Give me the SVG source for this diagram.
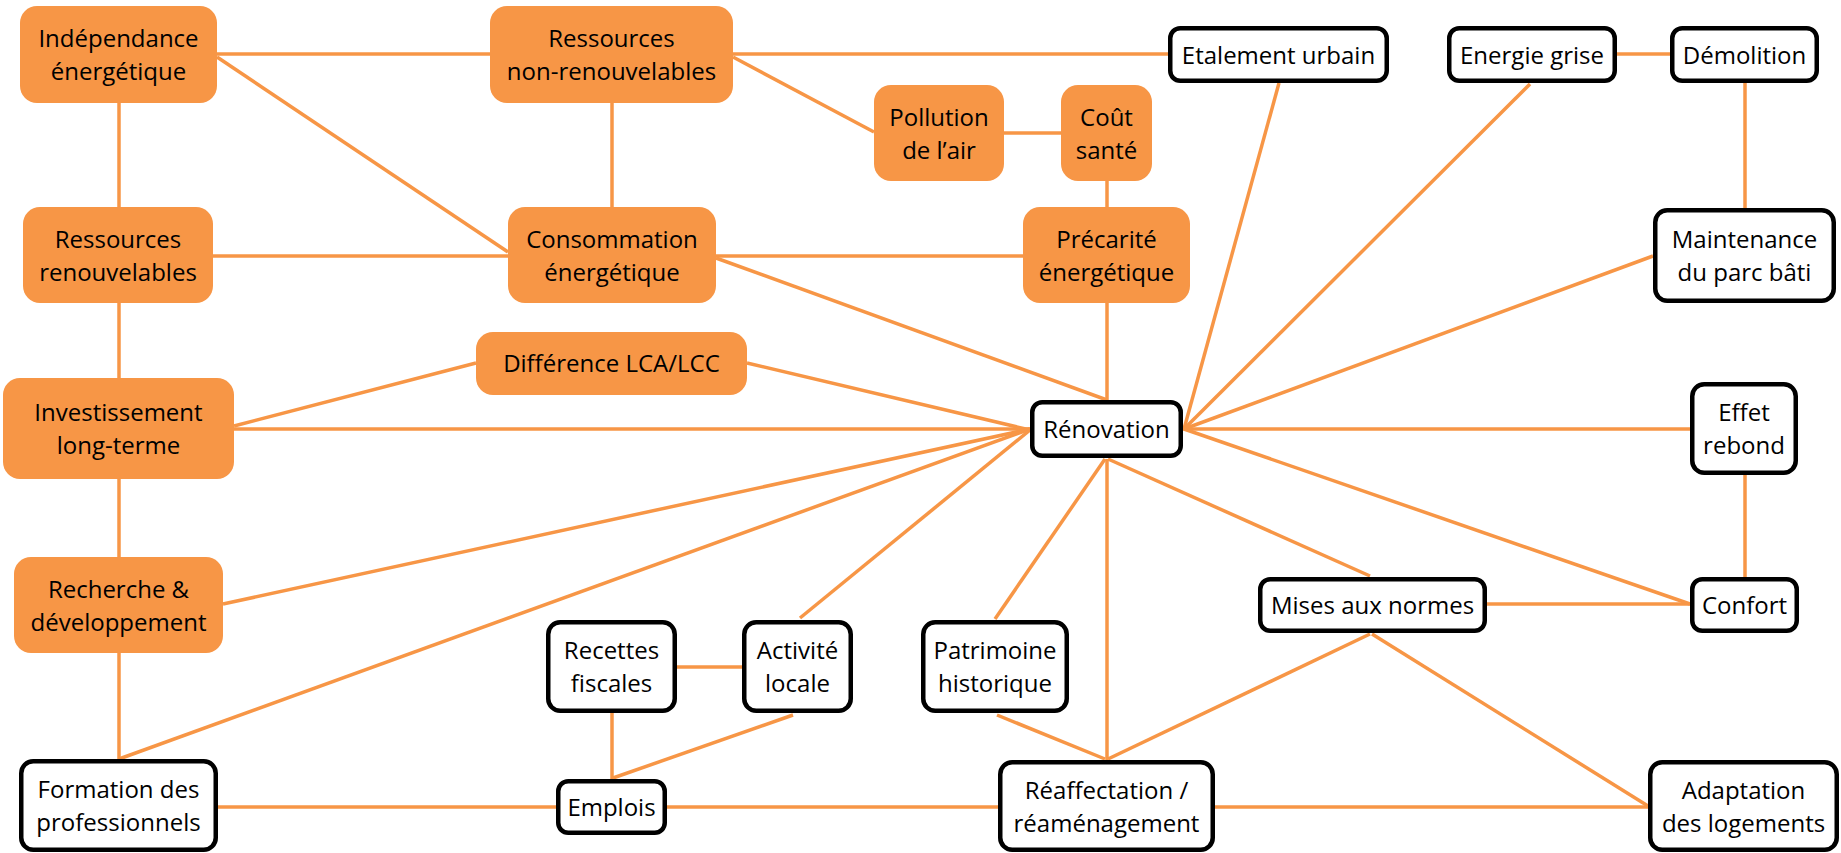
<svg xmlns="http://www.w3.org/2000/svg" width="1841" height="853" viewBox="0 0 1841 853">
<style>
.c line{stroke:#F79646;stroke-width:3.5;stroke-linecap:butt}
.o{fill:#F79646}
.w{fill:#FFFFFF;stroke:#000000;stroke-width:4.5}
text{font-family:"Open Sans","Liberation Sans",sans-serif;font-size:24px;fill:#000000;text-anchor:middle}
</style>
<rect width="1841" height="853" fill="#FFFFFF"/>
<g id="connectors" class="c">
<line x1="217" y1="54" x2="490" y2="54"/>
<line x1="119" y1="103" x2="119" y2="207"/>
<line x1="217" y1="57" x2="508" y2="252"/>
<line x1="612" y1="103" x2="612" y2="207"/>
<line x1="733" y1="54" x2="1168" y2="54"/>
<line x1="733" y1="57" x2="874" y2="132"/>
<line x1="1004" y1="133" x2="1061" y2="133"/>
<line x1="1107" y1="181" x2="1107" y2="207"/>
<line x1="213" y1="256" x2="508" y2="256"/>
<line x1="119" y1="303" x2="119" y2="378"/>
<line x1="716" y1="256" x2="1023" y2="256"/>
<line x1="716" y1="258" x2="1107" y2="400"/>
<line x1="1107" y1="303" x2="1107" y2="400"/>
<line x1="234" y1="426" x2="476" y2="363"/>
<line x1="747" y1="363" x2="1030" y2="430"/>
<line x1="234" y1="429" x2="1030" y2="429"/>
<line x1="119" y1="479" x2="119" y2="557"/>
<line x1="223" y1="604" x2="1030" y2="429"/>
<line x1="119" y1="653" x2="119" y2="759"/>
<line x1="119" y1="759" x2="1030" y2="429"/>
<line x1="218" y1="807" x2="556" y2="807"/>
<line x1="677" y1="667" x2="742" y2="667"/>
<line x1="612" y1="713" x2="612" y2="779"/>
<line x1="793" y1="715" x2="613" y2="778"/>
<line x1="800" y1="618" x2="1030" y2="430"/>
<line x1="667" y1="807" x2="998" y2="807"/>
<line x1="995" y1="619" x2="1105" y2="459"/>
<line x1="997" y1="715" x2="1105" y2="759"/>
<line x1="1107" y1="459" x2="1107" y2="760"/>
<line x1="1108" y1="459" x2="1370" y2="576"/>
<line x1="1370" y1="634" x2="1108" y2="759"/>
<line x1="1487" y1="604" x2="1690" y2="604"/>
<line x1="1372" y1="634" x2="1648" y2="806"/>
<line x1="1215" y1="807" x2="1648" y2="807"/>
<line x1="1184" y1="429" x2="1279" y2="83"/>
<line x1="1184" y1="429" x2="1530" y2="84"/>
<line x1="1184" y1="429" x2="1653" y2="256"/>
<line x1="1183" y1="429" x2="1690" y2="429"/>
<line x1="1184" y1="429" x2="1690" y2="604"/>
<line x1="1617" y1="54" x2="1670" y2="54"/>
<line x1="1745" y1="83" x2="1745" y2="208"/>
<line x1="1745" y1="475" x2="1745" y2="577"/>
</g>
<g id="independance"><rect class="o" x="20" y="6" width="197" height="97" rx="17"/><text x="118.5" y="47">Indépendance</text><text x="118.5" y="80">énergétique</text></g>
<g id="ressources-non-renouvelables"><rect class="o" x="490" y="6" width="243" height="97" rx="17"/><text x="611.5" y="47">Ressources</text><text x="611.5" y="80">non-renouvelables</text></g>
<g id="pollution"><rect class="o" x="874" y="85" width="130" height="96" rx="17"/><text x="939" y="125.5">Pollution</text><text x="939" y="158.5">de l’air</text></g>
<g id="cout-sante"><rect class="o" x="1061" y="85" width="91" height="96" rx="17"/><text x="1106.5" y="125.5">Coût</text><text x="1106.5" y="158.5">santé</text></g>
<g id="ressources-renouvelables"><rect class="o" x="23" y="207" width="190" height="96" rx="17"/><text x="118" y="247.5">Ressources</text><text x="118" y="280.5">renouvelables</text></g>
<g id="consommation"><rect class="o" x="508" y="207" width="208" height="96" rx="17"/><text x="612" y="247.5">Consommation</text><text x="612" y="280.5">énergétique</text></g>
<g id="precarite"><rect class="o" x="1023" y="207" width="167" height="96" rx="17"/><text x="1106.5" y="247.5">Précarité</text><text x="1106.5" y="280.5">énergétique</text></g>
<g id="difference"><rect class="o" x="476" y="332" width="271" height="63" rx="17"/><text x="611.5" y="372">Différence LCA/LCC</text></g>
<g id="investissement"><rect class="o" x="3" y="378" width="231" height="101" rx="17"/><text x="118.5" y="421">Investissement</text><text x="118.5" y="454">long-terme</text></g>
<g id="recherche"><rect class="o" x="14" y="557" width="209" height="96" rx="17"/><text x="118.5" y="597.5">Recherche &amp;</text><text x="118.5" y="630.5">développement</text></g>
<g id="etalement"><rect class="w" x="1170.25" y="28.25" width="216.5" height="52.5" rx="10"/><text x="1278.5" y="63.5">Etalement urbain</text></g>
<g id="energie-grise"><rect class="w" x="1449.25" y="28.25" width="165.5" height="52.5" rx="10"/><text x="1532" y="63.5">Energie grise</text></g>
<g id="demolition"><rect class="w" x="1672.25" y="28.25" width="144.5" height="52.5" rx="10"/><text x="1744.5" y="63.5">Démolition</text></g>
<g id="maintenance"><rect class="w" x="1655.25" y="210.25" width="178.5" height="90.5" rx="12"/><text x="1744.5" y="248">Maintenance</text><text x="1744.5" y="281">du parc bâti</text></g>
<g id="renovation"><rect class="w" x="1032.25" y="402.25" width="148.5" height="53.5" rx="10"/><text x="1106.5" y="438">Rénovation</text></g>
<g id="effet-rebond"><rect class="w" x="1692.25" y="384.25" width="103.5" height="88.5" rx="12"/><text x="1744" y="421">Effet</text><text x="1744" y="454">rebond</text></g>
<g id="confort"><rect class="w" x="1692.25" y="579.25" width="104.5" height="51.5" rx="10"/><text x="1744.5" y="614">Confort</text></g>
<g id="mises-aux-normes"><rect class="w" x="1260.25" y="579.25" width="224.5" height="51.5" rx="10"/><text x="1372.5" y="614">Mises aux normes</text></g>
<g id="recettes"><rect class="w" x="548.25" y="622.25" width="126.5" height="88.5" rx="12"/><text x="611.5" y="659">Recettes</text><text x="611.5" y="692">fiscales</text></g>
<g id="activite"><rect class="w" x="744.25" y="622.25" width="106.5" height="88.5" rx="12"/><text x="797.5" y="659">Activité</text><text x="797.5" y="692">locale</text></g>
<g id="patrimoine"><rect class="w" x="923.25" y="622.25" width="143.5" height="88.5" rx="12"/><text x="995" y="659">Patrimoine</text><text x="995" y="692">historique</text></g>
<g id="formation"><rect class="w" x="21.25" y="761.25" width="194.5" height="88.5" rx="12"/><text x="118.5" y="798">Formation des</text><text x="118.5" y="831">professionnels</text></g>
<g id="emplois"><rect class="w" x="558.25" y="781.25" width="106.5" height="51.5" rx="10"/><text x="611.5" y="816">Emplois</text></g>
<g id="reaffectation"><rect class="w" x="1000.25" y="762.25" width="212.5" height="87.5" rx="12"/><text x="1106.5" y="798.5">Réaffectation /</text><text x="1106.5" y="831.5">réaménagement</text></g>
<g id="adaptation"><rect class="w" x="1650.25" y="762.25" width="186.5" height="87.5" rx="12"/><text x="1743.5" y="798.5">Adaptation</text><text x="1743.5" y="831.5">des logements</text></g>
</svg>
